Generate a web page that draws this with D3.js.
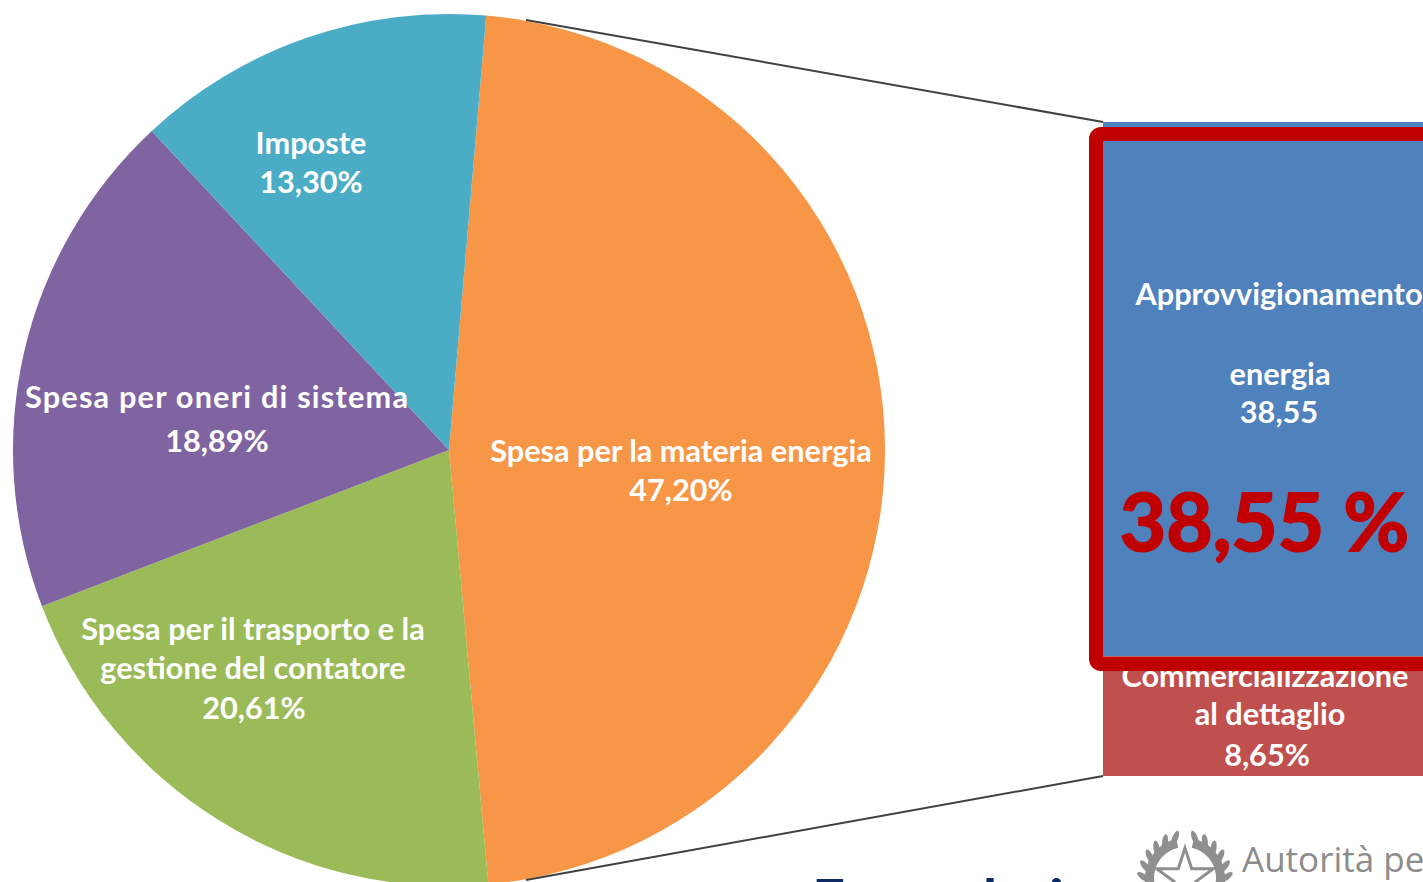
<!DOCTYPE html>
<html>
<head>
<meta charset="utf-8">
<style>
  html, body { margin: 0; padding: 0; background: #fff; overflow: hidden; }
  svg { display: block; }
  text { font-family: Lato, "Open Sans", sans-serif; }
</style>
<script src="https://cdn.jsdelivr.net/npm/d3@7"></script>
</head>
<body>
<svg width="1423" height="882"></svg>
<script>
// pie data
var pieNames = [
  "Spesa per la materia energia",
  "Spesa per il trasporto e la",
  "gestione del contatore",
  "Spesa per oneri di sistema",
  "Imposte"
];
var pieValues = [47.2, 20.61, 18.89, 13.3];
var pieColors = ["#f79646", "#9bbb59", "#8064a2", "#4bacc6"];

// stacked column that breaks out the orange slice
var stackNames = ["Approvvigionamento", "energia", "Commercializzazione", "al dettaglio"];
var stackValues = [38.55, 8.65];
var stackColors = ["#4f81bd", "#c0504d"];

var svg = d3.select("svg");
var cx = 449, cy = 450, radius = 436;

// values are written with a comma in the source
function pct(v) {
  return v.toFixed(2).replace(".", ",") + "%";
}

// Pie
var pie = d3.pie().sort(null).startAngle(0.0855).endAngle(0.0855 + 2 * Math.PI);
var arcs = pie(pieValues);
var arc = d3.arc().innerRadius(0).outerRadius(radius);

svg.append("g")
  .attr("transform", "translate(" + cx + "," + cy + ")")
  .selectAll("path")
  .data(arcs)
  .enter()
  .append("path")
  .attr("d", arc)
  .attr("fill", function(d, i) { return pieColors[i]; });

// Column, y scale runs over the sum of the two parts
var colX = 1103, colW = 340;
var y = d3.scaleLinear()
  .domain([0, d3.sum(stackValues)])
  .range([122, 776]);

var g = svg.append("g");
var total = 0;
stackValues.forEach(function(v, i) {
  g.append("rect")
    .attr("x", colX)
    .attr("y", y(total))
    .attr("width", colW)
    .attr("height", y(total + v) - y(total))
    .attr("fill", stackColors[i]);
  total += v;
});

// Connector lines from the pie to the column
var connectors = [[[526, 20], [1103, 122]], [[526, 880], [1103, 776]]];
connectors.forEach(function(c) {
  svg.append("line")
    .attr("x1", c[0][0]).attr("y1", c[0][1])
    .attr("x2", c[1][0]).attr("y2", c[1][1])
    .attr("stroke", "#404040")
    .attr("stroke-width", 2);
});

// Label placement: text, x, y, and forced width where the source is spaced out
var labels = [
  [pieNames[4], 311, 154],
  [pct(pieValues[3]), 311, 193],
  [pieNames[3], 216.5, 408, 383],
  [pct(pieValues[2]), 217, 452],
  [pieNames[0], 681, 462],
  [pct(pieValues[0]), 681, 501],
  [pieNames[1], 253, 640],
  [pieNames[2], 253, 679],
  [pct(pieValues[1]), 254, 719],
  [stackNames[0], 1279, 305],
  [stackNames[1], 1280, 385],
  [stackValues[0].toFixed(2).replace(".", ","), 1279, 423],
  [stackNames[2], 1265, 687],
  [stackNames[3], 1270, 725],
  [pct(stackValues[1]), 1267, 766]
];
svg.append("g")
  .selectAll("text")
  .data(labels)
  .enter()
  .append("text")
  .attr("x", function(d) { return d[1]; })
  .attr("y", function(d) { return d[2]; })
  .attr("text-anchor", "middle")
  .attr("fill", "#fff")
  .attr("font-size", 30.7)
  .attr("font-weight", 700)
  .attr("textLength", function(d) { return d[3] || null; })
  .attr("lengthAdjust", "spacing")
  .text(function(d) { return d[0]; });

// Red highlight box drawn over the column
svg.append("rect")
  .attr("x", 1096)
  .attr("y", 134)
  .attr("width", 400)
  .attr("height", 530)
  .attr("rx", 5)
  .attr("fill", "none")
  .attr("stroke", "#c00000")
  .attr("stroke-width", 14);

svg.append("text")
  .attr("x", 1264.5)
  .attr("y", 551)
  .attr("text-anchor", "middle")
  .attr("fill", "#c00000")
  .attr("stroke", "#c00000")
  .attr("stroke-width", 2)
  .attr("font-size", 80)
  .attr("font-weight", 700)
  .text(stackValues[0].toFixed(2).replace(".", ",") + " %");

// Source line, only the top of it is inside the picture
svg.append("text")
  .attr("x", 812)
  .attr("y", 921)
  .attr("fill", "#0b2a66")
  .attr("font-size", 58)
  .attr("font-weight", 700)
  .attr("word-spacing", -25)
  .text("Fonte: dati");

// Logo text
svg.append("text")
  .attr("x", 1242)
  .attr("y", 872)
  .attr("fill", "#8c8c8c")
  .style("font-family", "'Open Sans'")
  .attr("font-size", 35)
  .text("Autorità per");

// Emblem, rough wreath and star
var emblem = svg.append("g")
  .attr("transform", "translate(1185,878)");
var ring = d3.arc().innerRadius(31).outerRadius(40);
[[-2.75, -0.22], [0.22, 2.75]].forEach(function(a) {
  emblem.append("path")
    .attr("d", ring({ startAngle: a[0], endAngle: a[1] }))
    .attr("fill", "#8f8f8f");
});
// leaves lean away from the gap at the top
[1, -1].forEach(function(side) {
  d3.range(0, 11).forEach(function(i) {
    emblem.append("ellipse")
      .attr("cx", 0)
      .attr("cy", -41)
      .attr("rx", 3)
      .attr("ry", 8)
      .attr("fill", "#8f8f8f")
      .attr("transform", "rotate(" + side * (14 + i * 15) + ") rotate(" + side * -35 + " 0 -41)");
  });
});
emblem.append("path")
  .attr("d", d3.symbol().type(d3.symbolStar).size(1000)())
  .attr("fill", "#fff")
  .attr("stroke", "#8f8f8f")
  .attr("stroke-width", 3);
</script>
</body>
</html>
